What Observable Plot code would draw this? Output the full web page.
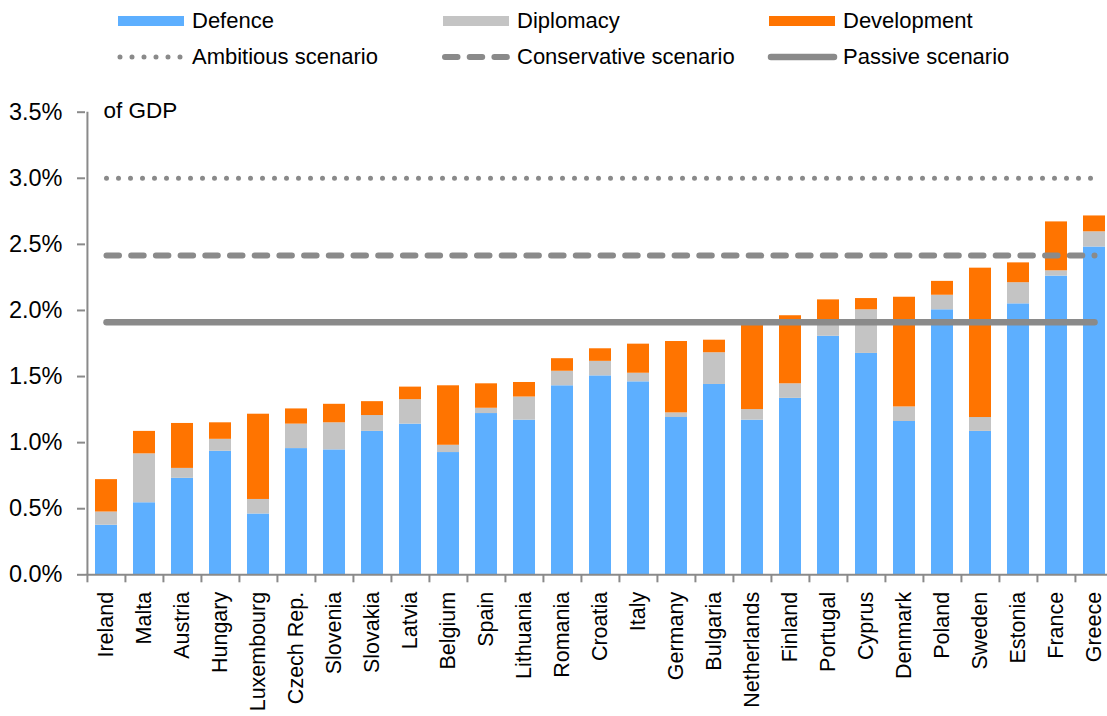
<!DOCTYPE html>
<html>
<head>
<meta charset="utf-8">
<script src="https://cdn.jsdelivr.net/npm/d3@7"></script>
<script src="https://cdn.jsdelivr.net/npm/@observablehq/plot@0.6"></script>
<style>
  html, body { margin: 0; padding: 0; background: #fff; overflow: hidden; }
  body { font-family: "Liberation Sans", Arial, sans-serif; width: 1107px; }
  #legend { position: relative; width: 1107px; height: 80px; }
  .li { position: absolute; display: flex; align-items: center; height: 24px; }
  .li span { font-size: 22px; color: #000; margin-left: 8px; white-space: nowrap; }
  .li svg { display: block; }
</style>
</head>
<body>
<div id="legend"></div>
<div id="chart"></div>
<script>
// ---- data (% of GDP) ----
const countries = ["Ireland","Malta","Austria","Hungary","Luxembourg","Czech Rep.","Slovenia","Slovakia","Latvia","Belgium","Spain","Lithuania","Romania","Croatia","Italy","Germany","Bulgaria","Netherlands","Finland","Portugal","Cyprus","Denmark","Poland","Sweden","Estonia","France","Greece"];
const defence     = [0.375,0.545,0.73,0.935,0.46,0.955,0.945,1.085,1.14,0.925,1.22,1.17,1.43,1.505,1.46,1.19,1.44,1.17,1.335,1.805,1.675,1.16,2.005,1.085,2.05,2.26,2.48];
const diplomacy   = [0.10,0.37,0.075,0.09,0.11,0.185,0.205,0.12,0.185,0.055,0.04,0.175,0.11,0.11,0.065,0.035,0.24,0.08,0.11,0.125,0.33,0.11,0.11,0.105,0.16,0.04,0.115];
const development = [0.245,0.17,0.34,0.125,0.645,0.115,0.14,0.105,0.095,0.45,0.185,0.11,0.095,0.095,0.22,0.54,0.095,0.65,0.515,0.15,0.085,0.83,0.105,1.13,0.15,0.37,0.12];
const seriesNames  = ["Defence","Diplomacy","Development"];
const seriesColors = ["#5DAFFF","#C4C4C4","#FF7400"];
const scenarioNames  = ["Ambitious scenario","Conservative scenario","Passive scenario"];
const scenarioValues = [3.0, 2.415, 1.91];
const yTicks = [0, 0.5, 1.0, 1.5, 2.0, 2.5, 3.0, 3.5];
const yUnitLabel = "of GDP";

// ---- styles ----
const lineGray = "#8A8A8A";
const scenarioStyles = [
  {strokeWidth: 5, strokeDasharray: "0,12"},
  {strokeWidth: 6, strokeDasharray: "12.5,12.2"},
  {strokeWidth: 6.5, strokeDasharray: null}
];

// ---- legend ----
const legend = document.getElementById("legend");
const colX = [118, 443, 769];
const rowY = [21, 57];
seriesNames.forEach((name, i) => {
  const d = document.createElement("div");
  d.className = "li";
  d.style.left = colX[i] + "px";
  d.style.top = (rowY[0] - 12) + "px";
  d.innerHTML = `<svg width="66" height="12"><rect x="0" y="1" width="66" height="10" fill="${seriesColors[i]}"/></svg><span>${name}</span>`;
  legend.appendChild(d);
});
scenarioNames.forEach((name, i) => {
  const s = scenarioStyles[i];
  const d = document.createElement("div");
  d.className = "li";
  d.style.left = (colX[i] - 3) + "px";
  d.style.top = (rowY[1] - 12) + "px";
  const dash = s.strokeDasharray ? `stroke-dasharray="${s.strokeDasharray}"` : "";
  d.innerHTML = `<svg width="72" height="12"><line x1="5" x2="68" y1="6" y2="6" stroke="${lineGray}" stroke-width="${s.strokeWidth}" stroke-linecap="round" ${dash}/></svg><span style="margin-left:5px">${name}</span>`;
  legend.appendChild(d);
});

// ---- chart ----
const rows = [];
countries.forEach((c, i) => {
  rows.push({country: c, series: "Defence", value: defence[i]});
  rows.push({country: c, series: "Diplomacy", value: diplomacy[i]});
  rows.push({country: c, series: "Development", value: development[i]});
});

const step = 38.14;
const left = 85;
const scenarioMarks = scenarioNames.map((name, j) => Plot.line(
  countries.map(c => ({country: c, value: scenarioValues[j]})),
  {x: "country", y: "value", stroke: lineGray, strokeWidth: scenarioStyles[j].strokeWidth,
   strokeDasharray: scenarioStyles[j].strokeDasharray || undefined, strokeLinecap: "round"}
));

const chart = Plot.plot({
  width: 1107,
  height: 636,
  marginTop: 31.7,
  marginBottom: 141.7,
  marginLeft: left,
  marginRight: 0,
  style: {fontFamily: "'Liberation Sans', Arial, sans-serif", fontSize: "22px", color: "#000", background: "#fff"},
  x: {domain: countries, range: [left, left + countries.length * step], paddingInner: 0.42, paddingOuter: 0.21, axis: null},
  y: {domain: [0, 3.5], axis: null},
  color: {domain: seriesNames, range: seriesColors},
  marks: [
    Plot.barY(rows, {x: "country", y: "value", fill: "series", order: seriesNames}),
    ...scenarioMarks,
    Plot.ruleY([0], {stroke: lineGray, strokeWidth: 2}),
    Plot.ruleX([countries[0]], {dx: -step / 2, y1: 0, y2: 3.5, stroke: lineGray, strokeWidth: 2}),
    Plot.axisY({ticks: yTicks, tickFormat: d => d.toFixed(1) + "%", tickSize: 8, tickPadding: 15,
      stroke: lineGray, strokeWidth: 2, fontSize: 23.5, fontFamily: "'Liberation Sans Narrow', 'Arial Narrow', 'Liberation Sans', sans-serif", label: null}),
    Plot.axisX({tickSize: 8, tickFormat: () => "", dx: -step / 2, stroke: lineGray, strokeWidth: 2, label: null}),
    Plot.axisX({tickSize: 0, tickRotate: -90, tickPadding: 17, fontSize: 21.5, label: null}),
    Plot.text([yUnitLabel], {frameAnchor: "top-left", dx: 18, dy: -10, textAnchor: "start", lineAnchor: "top", fontSize: 22.5})
  ]
});
document.getElementById("chart").appendChild(chart);
</script>
</body>
</html>
